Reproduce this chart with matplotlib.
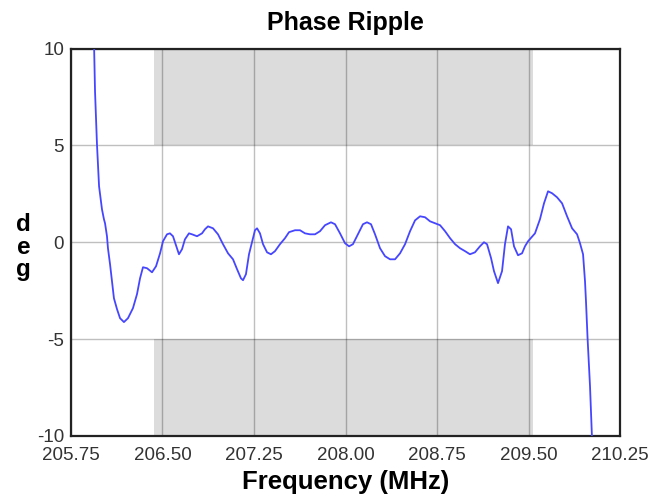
import matplotlib
matplotlib.use("Agg")
import matplotlib.pyplot as plt

plt.rcParams['font.family'] = ['Liberation Sans', 'DejaVu Sans']
plt.rcParams['axes.unicode_minus'] = False

# phase ripple trace (MHz, deg)
freq = [205.9385, 205.947, 205.963, 205.980, 205.996, 206.004, 206.020, 206.029, 206.045, 206.053,
        206.070, 206.086, 206.102, 206.127, 206.152, 206.184, 206.217, 206.258, 206.291, 206.316,
        206.340, 206.373, 206.414, 206.447, 206.480, 206.504, 206.537, 206.561, 206.586, 206.619,
        206.635, 206.660, 206.684, 206.717, 206.742, 206.783, 206.824, 206.848, 206.873, 206.914,
        206.955, 206.996, 207.037, 207.078, 207.111, 207.143, 207.160, 207.184, 207.209, 207.242,
        207.258, 207.275, 207.299, 207.324, 207.357, 207.389, 207.422, 207.463, 207.504, 207.537,
        207.586, 207.627, 207.668, 207.709, 207.750, 207.791, 207.832, 207.881, 207.914, 207.955,
        207.996, 208.029, 208.061, 208.102, 208.143, 208.176, 208.209, 208.242, 208.283, 208.324,
        208.365, 208.406, 208.447, 208.488, 208.529, 208.570, 208.611, 208.652, 208.693, 208.734,
        208.775, 208.816, 208.857, 208.898, 208.939, 208.980, 209.020, 209.061, 209.102, 209.135,
        209.160, 209.193, 209.217, 209.250, 209.283, 209.307, 209.332, 209.357, 209.381, 209.414,
        209.447, 209.471, 209.496, 209.553, 209.594, 209.627, 209.660, 209.693, 209.734, 209.775,
        209.816, 209.857, 209.898, 209.922, 209.947, 209.963, 209.971, 209.984, 210.004, 210.020,
        210.029]
phase = [10.36, 7.78, 5.05, 2.89, 2.11, 1.70, 1.19, 0.98, 0.31, -0.31,
         -1.13, -2.01, -2.89, -3.45, -3.92, -4.12, -3.92, -3.40, -2.68, -1.86,
         -1.29, -1.34, -1.55, -1.24, -0.57, 0.05, 0.41, 0.46, 0.31, -0.31,
         -0.62, -0.36, 0.15, 0.46, 0.41, 0.31, 0.46, 0.67, 0.82, 0.72,
         0.41, -0.10, -0.57, -0.88, -1.39, -1.86, -1.96, -1.65, -0.62, 0.21,
         0.62, 0.72, 0.46, -0.10, -0.52, -0.62, -0.46, -0.10, 0.21, 0.52,
         0.62, 0.62, 0.46, 0.41, 0.41, 0.57, 0.88, 1.03, 0.93, 0.46,
         -0.05, -0.21, -0.10, 0.41, 0.93, 1.03, 0.93, 0.41, -0.31, -0.72,
         -0.88, -0.88, -0.57, -0.10, 0.57, 1.13, 1.34, 1.29, 1.08, 0.98,
         0.88, 0.57, 0.21, -0.10, -0.31, -0.46, -0.62, -0.52, -0.21, 0.00,
         -0.10, -0.82, -1.49, -2.11, -1.49, -0.10, 0.82, 0.67, -0.21, -0.67,
         -0.57, -0.21, 0.05, 0.46, 1.19, 2.01, 2.63, 2.53, 2.32, 2.01,
         1.34, 0.72, 0.41, -0.05, -0.62, -2.01, -3.04, -4.95, -7.42, -10.05,
         -11.03]

xticks = [205.75, 206.50, 207.25, 208.00, 208.75, 209.50, 210.25]
yticks = [-10, -5, 0, 5, 10]

# passband spec mask
band_lo, band_hi = 206.43, 209.54
limit = 5

fig = plt.figure(figsize=(6.61, 4.98), dpi=100)
ax = fig.add_axes([0.1074, 0.1245, 0.8306, 0.7781])

ax.fill_between([band_lo, band_hi], limit, 10, color='#dcdcdc', lw=0, zorder=0)
ax.fill_between([band_lo, band_hi], -10, -limit, color='#dcdcdc', lw=0, zorder=0)

ax.plot(freq, phase, color='#4646ff', lw=1.3, solid_joinstyle='round', zorder=3)

ax.set_xlim(205.75, 210.25)
ax.set_ylim(-10, 10)
ax.set_xticks(xticks)
ax.set_xticklabels(['%.2f' % t for t in xticks])
ax.set_yticks(yticks)
ax.grid(True, color='black', alpha=0.25, lw=1, zorder=1)
ax.set_axisbelow(True)
ax.tick_params(length=0, labelsize=13.5, colors='#333333')
ax.tick_params(axis='x', pad=8)
ax.tick_params(axis='y', pad=5)
for s in ax.spines.values():
    s.set_linewidth(1.6)
    s.set_color('#222222')

ax.set_title('Phase Ripple', fontsize=18, fontweight='bold', pad=13)
ax.set_xlabel('Frequency (MHz)', fontsize=18.5, fontweight='bold', labelpad=4)
fig.text(0.036, 0.504, 'd\ne\ng', fontsize=17.5, fontweight='bold',
         ha='center', va='center', linespacing=0.95)

fig.savefig('out.png', dpi=100)
